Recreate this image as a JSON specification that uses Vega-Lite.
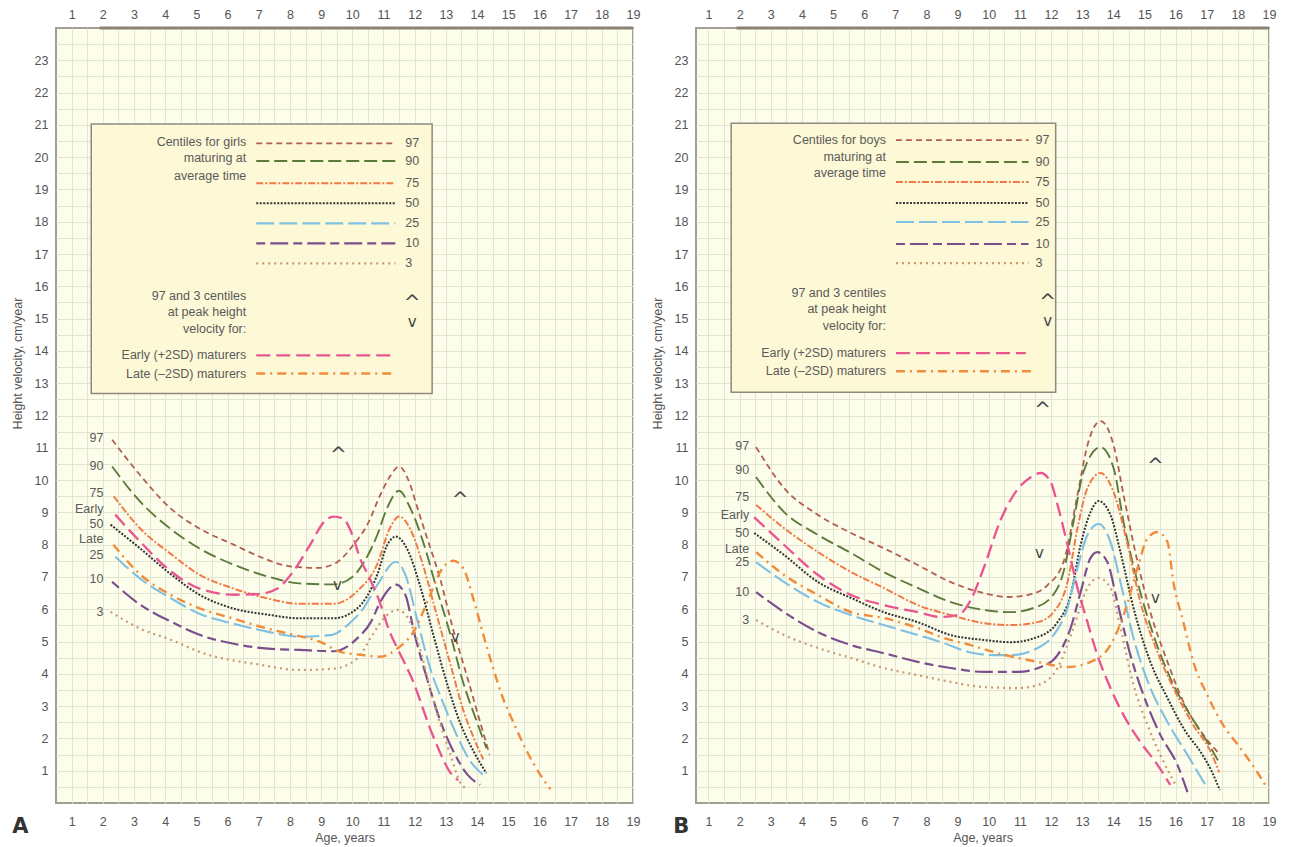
{
  "$schema": "https://vega.github.io/schema/vega-lite/v6.json",
  "padding": {"left": 10, "top": 7, "right": 5, "bottom": 5},
  "spacing": 9,
  "background": "#ffffff",
  "datasets": {
    "one": [{}],
    "curves": [
      {"panel":"A","series":"97","age":2.3,"vel":11.25},{"panel":"A","series":"97","age":3.2,"vel":10.15},{"panel":"A","series":"97","age":4.2,"vel":9.1},{"panel":"A","series":"97","age":5.1,"vel":8.5},{"panel":"A","series":"97","age":6.2,"vel":8.0},{"panel":"A","series":"97","age":7.1,"vel":7.6},{"panel":"A","series":"97","age":8.0,"vel":7.33},{"panel":"A","series":"97","age":8.9,"vel":7.28},{"panel":"A","series":"97","age":9.5,"vel":7.45},{"panel":"A","series":"97","age":10.0,"vel":7.95},{"panel":"A","series":"97","age":10.5,"vel":8.65},{"panel":"A","series":"97","age":10.9,"vel":9.55},{"panel":"A","series":"97","age":11.2,"vel":10.1},{"panel":"A","series":"97","age":11.5,"vel":10.42},{"panel":"A","series":"97","age":11.8,"vel":10.0},{"panel":"A","series":"97","age":12.1,"vel":9.1},{"panel":"A","series":"97","age":12.4,"vel":8.2},{"panel":"A","series":"97","age":12.8,"vel":7.0},{"panel":"A","series":"97","age":13.2,"vel":5.5},{"panel":"A","series":"97","age":13.7,"vel":3.85},{"panel":"A","series":"97","age":14.1,"vel":2.5},{"panel":"A","series":"97","age":14.4,"vel":1.5},
      {"panel":"A","series":"90","age":2.3,"vel":10.42},{"panel":"A","series":"90","age":3.2,"vel":9.33},{"panel":"A","series":"90","age":4.2,"vel":8.47},{"panel":"A","series":"90","age":5.1,"vel":7.88},{"panel":"A","series":"90","age":6.2,"vel":7.38},{"panel":"A","series":"90","age":7.3,"vel":7.01},{"panel":"A","series":"90","age":8.3,"vel":6.8},{"panel":"A","series":"90","age":9.4,"vel":6.77},{"panel":"A","series":"90","age":10.0,"vel":7.0},{"panel":"A","series":"90","age":10.4,"vel":7.5},{"panel":"A","series":"90","age":10.8,"vel":8.3},{"panel":"A","series":"90","age":11.1,"vel":9.1},{"panel":"A","series":"90","age":11.5,"vel":9.67},{"panel":"A","series":"90","age":11.85,"vel":9.15},{"panel":"A","series":"90","age":12.3,"vel":8.0},{"panel":"A","series":"90","age":12.7,"vel":6.65},{"panel":"A","series":"90","age":13.15,"vel":5.2},{"panel":"A","series":"90","age":13.55,"vel":3.75},{"panel":"A","series":"90","age":14.0,"vel":2.5},{"panel":"A","series":"90","age":14.3,"vel":1.7},
      {"panel":"A","series":"75","age":2.35,"vel":9.5},{"panel":"A","series":"75","age":3.2,"vel":8.5},{"panel":"A","series":"75","age":4.2,"vel":7.7},{"panel":"A","series":"75","age":5.1,"vel":7.07},{"panel":"A","series":"75","age":6.2,"vel":6.64},{"panel":"A","series":"75","age":7.3,"vel":6.33},{"panel":"A","series":"75","age":8.3,"vel":6.17},{"panel":"A","series":"75","age":9.4,"vel":6.17},{"panel":"A","series":"75","age":10.15,"vel":6.55},{"panel":"A","series":"75","age":10.8,"vel":7.4},{"panel":"A","series":"75","age":11.2,"vel":8.5},{"panel":"A","series":"75","age":11.5,"vel":8.87},{"panel":"A","series":"75","age":11.85,"vel":8.5},{"panel":"A","series":"75","age":12.3,"vel":7.26},{"panel":"A","series":"75","age":12.7,"vel":5.85},{"panel":"A","series":"75","age":13.15,"vel":4.28},{"panel":"A","series":"75","age":13.55,"vel":2.9},{"panel":"A","series":"75","age":13.9,"vel":2.0},{"panel":"A","series":"75","age":14.2,"vel":1.35},
      {"panel":"A","series":"50","age":2.25,"vel":8.62},{"panel":"A","series":"50","age":3.2,"vel":7.88},{"panel":"A","series":"50","age":4.2,"vel":7.07},{"panel":"A","series":"50","age":5.1,"vel":6.45},{"panel":"A","series":"50","age":6.2,"vel":6.02},{"panel":"A","series":"50","age":7.3,"vel":5.83},{"panel":"A","series":"50","age":8.3,"vel":5.72},{"panel":"A","series":"50","age":9.4,"vel":5.72},{"panel":"A","series":"50","age":10.15,"vel":6.02},{"panel":"A","series":"50","age":10.8,"vel":7.07},{"panel":"A","series":"50","age":11.1,"vel":7.95},{"panel":"A","series":"50","age":11.4,"vel":8.25},{"panel":"A","series":"50","age":11.75,"vel":7.88},{"panel":"A","series":"50","age":12.2,"vel":6.64},{"panel":"A","series":"50","age":12.6,"vel":5.2},{"panel":"A","series":"50","age":13.05,"vel":3.66},{"panel":"A","series":"50","age":13.45,"vel":2.5},{"panel":"A","series":"50","age":13.9,"vel":1.58},{"panel":"A","series":"50","age":14.3,"vel":0.92},
      {"panel":"A","series":"25","age":2.4,"vel":7.63},{"panel":"A","series":"25","age":3.2,"vel":6.95},{"panel":"A","series":"25","age":4.2,"vel":6.33},{"panel":"A","series":"25","age":5.1,"vel":5.86},{"panel":"A","series":"25","age":6.2,"vel":5.55},{"panel":"A","series":"25","age":7.3,"vel":5.3},{"panel":"A","series":"25","age":8.3,"vel":5.15},{"panel":"A","series":"25","age":9.3,"vel":5.2},{"panel":"A","series":"25","age":9.95,"vel":5.6},{"panel":"A","series":"25","age":10.35,"vel":6.02},{"panel":"A","series":"25","age":10.8,"vel":6.75},{"panel":"A","series":"25","age":11.4,"vel":7.47},{"panel":"A","series":"25","age":11.7,"vel":7.07},{"panel":"A","series":"25","age":12.1,"vel":5.6},{"panel":"A","series":"25","age":12.5,"vel":4.16},{"panel":"A","series":"25","age":12.9,"vel":3.13},{"panel":"A","series":"25","age":13.35,"vel":2.1},{"panel":"A","series":"25","age":13.8,"vel":1.27},{"panel":"A","series":"25","age":14.2,"vel":0.87},
      {"panel":"A","series":"10","age":2.3,"vel":6.85},{"panel":"A","series":"10","age":3.2,"vel":6.14},{"panel":"A","series":"10","age":4.2,"vel":5.61},{"panel":"A","series":"10","age":5.1,"vel":5.21},{"panel":"A","series":"10","age":6.2,"vel":4.93},{"panel":"A","series":"10","age":7.3,"vel":4.78},{"panel":"A","series":"10","age":8.3,"vel":4.74},{"panel":"A","series":"10","age":9.4,"vel":4.7},{"panel":"A","series":"10","age":10.15,"vel":5.09},{"panel":"A","series":"10","age":10.6,"vel":5.61},{"panel":"A","series":"10","age":10.9,"vel":6.23},{"panel":"A","series":"10","age":11.4,"vel":6.76},{"panel":"A","series":"10","age":11.7,"vel":6.45},{"panel":"A","series":"10","age":12.0,"vel":5.21},{"panel":"A","series":"10","age":12.4,"vel":3.84},{"panel":"A","series":"10","age":12.8,"vel":2.6},{"panel":"A","series":"10","age":13.25,"vel":1.58},{"panel":"A","series":"10","age":13.7,"vel":0.87},{"panel":"A","series":"10","age":14.1,"vel":0.56},
      {"panel":"A","series":"3","age":2.25,"vel":5.92},{"panel":"A","series":"3","age":3.2,"vel":5.4},{"panel":"A","series":"3","age":4.2,"vel":5.05},{"panel":"A","series":"3","age":5.1,"vel":4.68},{"panel":"A","series":"3","age":7.05,"vel":4.28},{"panel":"A","series":"3","age":8.3,"vel":4.12},{"panel":"A","series":"3","age":9.4,"vel":4.16},{"panel":"A","series":"3","age":10.15,"vel":4.47},{"panel":"A","series":"3","age":10.65,"vel":5.21},{"panel":"A","series":"3","age":11.0,"vel":5.71},{"panel":"A","series":"3","age":11.45,"vel":5.98},{"panel":"A","series":"3","age":11.85,"vel":5.61},{"panel":"A","series":"3","age":12.2,"vel":4.68},{"panel":"A","series":"3","age":12.5,"vel":3.53},{"panel":"A","series":"3","age":12.8,"vel":2.51},{"panel":"A","series":"3","age":13.15,"vel":1.49},{"panel":"A","series":"3","age":13.45,"vel":0.65},{"panel":"A","series":"3","age":13.7,"vel":0.43},
      {"panel":"A","series":"Early","age":2.4,"vel":8.93},{"panel":"A","series":"Early","age":3.2,"vel":8.09},{"panel":"A","series":"Early","age":4.2,"vel":7.16},{"panel":"A","series":"Early","age":5.1,"vel":6.64},{"panel":"A","series":"Early","age":6.2,"vel":6.45},{"panel":"A","series":"Early","age":7.05,"vel":6.48},{"panel":"A","series":"Early","age":7.6,"vel":6.64},{"panel":"A","series":"Early","age":8.1,"vel":7.16},{"panel":"A","series":"Early","age":8.65,"vel":8.0},{"panel":"A","series":"Early","age":9.1,"vel":8.71},{"panel":"A","series":"Early","age":9.4,"vel":8.87},{"panel":"A","series":"Early","age":9.7,"vel":8.81},{"panel":"A","series":"Early","age":10.0,"vel":8.31},{"panel":"A","series":"Early","age":10.25,"vel":7.57},{"panel":"A","series":"Early","age":10.5,"vel":7.07},{"panel":"A","series":"Early","age":10.85,"vel":6.3},{"panel":"A","series":"Early","age":11.2,"vel":5.3},{"panel":"A","series":"Early","age":11.45,"vel":4.78},{"panel":"A","series":"Early","age":11.9,"vel":3.88},{"panel":"A","series":"Early","age":12.6,"vel":2.05},{"panel":"A","series":"Early","age":13.2,"vel":0.87},{"panel":"A","series":"Early","age":13.4,"vel":0.7},
      {"panel":"A","series":"Late","age":2.34,"vel":8.0},{"panel":"A","series":"Late","age":3.21,"vel":7.07},{"panel":"A","series":"Late","age":4.17,"vel":6.45},{"panel":"A","series":"Late","age":5.13,"vel":6.02},{"panel":"A","series":"Late","age":6.19,"vel":5.71},{"panel":"A","series":"Late","age":7.28,"vel":5.4},{"panel":"A","series":"Late","age":8.11,"vel":5.21},{"panel":"A","series":"Late","age":8.97,"vel":4.99},{"panel":"A","series":"Late","age":9.62,"vel":4.68},{"panel":"A","series":"Late","age":10.26,"vel":4.59},{"panel":"A","series":"Late","age":10.9,"vel":4.53},{"panel":"A","series":"Late","age":11.44,"vel":4.78},{"panel":"A","series":"Late","age":11.96,"vel":5.3},{"panel":"A","series":"Late","age":12.5,"vel":6.45},{"panel":"A","series":"Late","age":12.82,"vel":7.16},{"panel":"A","series":"Late","age":13.24,"vel":7.5},{"panel":"A","series":"Late","age":13.56,"vel":7.26},{"panel":"A","series":"Late","age":13.88,"vel":6.33},{"panel":"A","series":"Late","age":14.2,"vel":5.21},{"panel":"A","series":"Late","age":14.52,"vel":4.16},{"panel":"A","series":"Late","age":14.84,"vel":3.22},{"panel":"A","series":"Late","age":15.16,"vel":2.51},{"panel":"A","series":"Late","age":15.61,"vel":1.58},{"panel":"A","series":"Late","age":16.03,"vel":0.87},{"panel":"A","series":"Late","age":16.35,"vel":0.43},
      {"panel":"B","series":"97","age":2.53,"vel":11.02},{"panel":"B","series":"97","age":3.43,"vel":9.75},{"panel":"B","series":"97","age":4.52,"vel":8.92},{"panel":"B","series":"97","age":5.58,"vel":8.36},{"panel":"B","series":"97","age":6.63,"vel":7.89},{"panel":"B","series":"97","age":7.72,"vel":7.37},{"panel":"B","series":"97","age":8.78,"vel":6.84},{"panel":"B","series":"97","age":9.84,"vel":6.5},{"panel":"B","series":"97","age":10.61,"vel":6.38},{"panel":"B","series":"97","age":11.25,"vel":6.44},{"panel":"B","series":"97","age":11.89,"vel":6.75},{"panel":"B","series":"97","age":12.4,"vel":7.46},{"panel":"B","series":"97","age":12.85,"vel":9.54},{"panel":"B","series":"97","age":13.17,"vel":11.08},{"panel":"B","series":"97","age":13.59,"vel":11.83},{"panel":"B","series":"97","age":14.01,"vel":11.08},{"panel":"B","series":"97","age":14.33,"vel":9.54},{"panel":"B","series":"97","age":14.78,"vel":7.46},{"panel":"B","series":"97","age":15.19,"vel":5.91},{"panel":"B","series":"97","age":15.74,"vel":4.37},{"panel":"B","series":"97","age":16.25,"vel":3.13},{"panel":"B","series":"97","age":16.89,"vel":2.11},{"panel":"B","series":"97","age":17.44,"vel":1.49},
      {"panel":"B","series":"90","age":2.53,"vel":10.09},{"panel":"B","series":"90","age":3.43,"vel":9.01},{"panel":"B","series":"90","age":4.52,"vel":8.3},{"panel":"B","series":"90","age":5.58,"vel":7.74},{"panel":"B","series":"90","age":6.63,"vel":7.15},{"panel":"B","series":"90","age":7.72,"vel":6.66},{"panel":"B","series":"90","age":8.78,"vel":6.22},{"panel":"B","series":"90","age":9.84,"vel":5.98},{"panel":"B","series":"90","age":10.71,"vel":5.91},{"panel":"B","series":"90","age":11.44,"vel":6.04},{"panel":"B","series":"90","age":11.99,"vel":6.35},{"panel":"B","series":"90","age":12.4,"vel":7.15},{"panel":"B","series":"90","age":12.72,"vel":8.7},{"panel":"B","series":"90","age":13.04,"vel":10.25},{"panel":"B","series":"90","age":13.59,"vel":11.02},{"panel":"B","series":"90","age":14.01,"vel":10.37},{"panel":"B","series":"90","age":14.33,"vel":8.7},{"panel":"B","series":"90","age":14.78,"vel":6.84},{"panel":"B","series":"90","age":15.29,"vel":5.2},{"panel":"B","series":"90","age":15.83,"vel":3.87},{"panel":"B","series":"90","age":16.47,"vel":2.72},{"panel":"B","series":"90","age":17.02,"vel":1.89},{"panel":"B","series":"90","age":17.44,"vel":1.18},
      {"panel":"B","series":"75","age":2.53,"vel":9.23},{"panel":"B","series":"75","age":3.43,"vel":8.51},{"panel":"B","series":"75","age":4.52,"vel":7.77},{"panel":"B","series":"75","age":5.58,"vel":7.15},{"panel":"B","series":"75","age":6.63,"vel":6.66},{"panel":"B","series":"75","age":7.72,"vel":6.13},{"panel":"B","series":"75","age":8.78,"vel":5.82},{"panel":"B","series":"75","age":9.84,"vel":5.57},{"panel":"B","series":"75","age":10.71,"vel":5.51},{"panel":"B","series":"75","age":11.57,"vel":5.6},{"panel":"B","series":"75","age":12.08,"vel":5.91},{"panel":"B","series":"75","age":12.53,"vel":6.84},{"panel":"B","series":"75","age":12.85,"vel":8.51},{"panel":"B","series":"75","age":13.17,"vel":9.75},{"panel":"B","series":"75","age":13.59,"vel":10.22},{"panel":"B","series":"75","age":14.01,"vel":9.63},{"panel":"B","series":"75","age":14.46,"vel":7.99},{"panel":"B","series":"75","age":14.87,"vel":6.22},{"panel":"B","series":"75","age":15.42,"vel":4.67},{"panel":"B","series":"75","age":15.93,"vel":3.56},{"panel":"B","series":"75","age":16.57,"vel":2.41},{"panel":"B","series":"75","age":17.12,"vel":1.6},{"panel":"B","series":"75","age":17.4,"vel":0.95},
      {"panel":"B","series":"50","age":2.47,"vel":8.36},{"panel":"B","series":"50","age":3.43,"vel":7.68},{"panel":"B","series":"50","age":4.52,"vel":6.84},{"panel":"B","series":"50","age":5.58,"vel":6.35},{"panel":"B","series":"50","age":6.63,"vel":5.91},{"panel":"B","series":"50","age":7.72,"vel":5.6},{"panel":"B","series":"50","age":8.78,"vel":5.2},{"panel":"B","series":"50","age":9.84,"vel":5.05},{"panel":"B","series":"50","age":10.71,"vel":4.98},{"panel":"B","series":"50","age":11.57,"vel":5.14},{"panel":"B","series":"50","age":12.21,"vel":5.6},{"panel":"B","series":"50","age":12.63,"vel":6.44},{"panel":"B","series":"50","age":12.95,"vel":7.99},{"panel":"B","series":"50","age":13.27,"vel":9.01},{"panel":"B","series":"50","age":13.53,"vel":9.35},{"panel":"B","series":"50","age":13.91,"vel":8.92},{"panel":"B","series":"50","age":14.23,"vel":7.77},{"panel":"B","series":"50","age":14.65,"vel":6.04},{"panel":"B","series":"50","age":15.19,"vel":4.37},{"panel":"B","series":"50","age":15.74,"vel":3.25},{"panel":"B","series":"50","age":16.25,"vel":2.32},{"panel":"B","series":"50","age":16.89,"vel":1.45},{"panel":"B","series":"50","age":17.15,"vel":1.0},{"panel":"B","series":"50","age":17.42,"vel":0.4},
      {"panel":"B","series":"25","age":2.53,"vel":7.46},{"panel":"B","series":"25","age":3.43,"vel":6.84},{"panel":"B","series":"25","age":4.52,"vel":6.22},{"panel":"B","series":"25","age":5.58,"vel":5.82},{"panel":"B","series":"25","age":6.63,"vel":5.51},{"panel":"B","series":"25","age":7.72,"vel":5.2},{"panel":"B","series":"25","age":8.56,"vel":4.95},{"panel":"B","series":"25","age":9.42,"vel":4.66},{"panel":"B","series":"25","age":10.16,"vel":4.58},{"panel":"B","series":"25","age":10.71,"vel":4.58},{"panel":"B","series":"25","age":11.57,"vel":4.8},{"panel":"B","series":"25","age":12.08,"vel":5.2},{"panel":"B","series":"25","age":12.53,"vel":6.04},{"panel":"B","series":"25","age":12.85,"vel":7.28},{"panel":"B","series":"25","age":13.17,"vel":8.3},{"panel":"B","series":"25","age":13.53,"vel":8.64},{"panel":"B","series":"25","age":13.91,"vel":8.08},{"panel":"B","series":"25","age":14.23,"vel":6.84},{"panel":"B","series":"25","age":14.65,"vel":5.11},{"panel":"B","series":"25","age":15.19,"vel":3.56},{"panel":"B","series":"25","age":15.74,"vel":2.51},{"panel":"B","series":"25","age":16.38,"vel":1.49},{"panel":"B","series":"25","age":17.02,"vel":0.46},
      {"panel":"B","series":"10","age":2.53,"vel":6.53},{"panel":"B","series":"10","age":3.43,"vel":5.91},{"panel":"B","series":"10","age":4.52,"vel":5.29},{"panel":"B","series":"10","age":5.58,"vel":4.89},{"panel":"B","series":"10","age":6.63,"vel":4.64},{"panel":"B","series":"10","age":7.72,"vel":4.37},{"panel":"B","series":"10","age":8.78,"vel":4.18},{"panel":"B","series":"10","age":9.84,"vel":4.06},{"panel":"B","series":"10","age":10.93,"vel":4.06},{"panel":"B","series":"10","age":11.67,"vel":4.21},{"panel":"B","series":"10","age":12.21,"vel":4.58},{"panel":"B","series":"10","age":12.63,"vel":5.42},{"panel":"B","series":"10","age":12.95,"vel":6.53},{"panel":"B","series":"10","age":13.27,"vel":7.59},{"panel":"B","series":"10","age":13.49,"vel":7.77},{"panel":"B","series":"10","age":13.81,"vel":7.46},{"panel":"B","series":"10","age":14.13,"vel":6.22},{"panel":"B","series":"10","age":14.55,"vel":4.58},{"panel":"B","series":"10","age":14.97,"vel":3.34},{"panel":"B","series":"10","age":15.51,"vel":2.11},{"panel":"B","series":"10","age":16.06,"vel":1.18},{"panel":"B","series":"10","age":16.38,"vel":0.34},
      {"panel":"B","series":"3","age":2.53,"vel":5.67},{"panel":"B","series":"3","age":3.43,"vel":5.2},{"panel":"B","series":"3","age":4.52,"vel":4.8},{"panel":"B","series":"3","age":5.58,"vel":4.49},{"panel":"B","series":"3","age":6.63,"vel":4.18},{"panel":"B","series":"3","age":7.72,"vel":3.96},{"panel":"B","series":"3","age":8.78,"vel":3.75},{"panel":"B","series":"3","age":9.84,"vel":3.59},{"panel":"B","series":"3","age":10.93,"vel":3.56},{"panel":"B","series":"3","age":11.57,"vel":3.65},{"panel":"B","series":"3","age":12.21,"vel":4.18},{"panel":"B","series":"3","age":12.72,"vel":5.42},{"panel":"B","series":"3","age":13.17,"vel":6.66},{"panel":"B","series":"3","age":13.53,"vel":6.97},{"panel":"B","series":"3","age":13.91,"vel":6.66},{"panel":"B","series":"3","age":14.23,"vel":5.42},{"panel":"B","series":"3","age":14.65,"vel":3.65},{"panel":"B","series":"3","age":15.1,"vel":2.41},{"panel":"B","series":"3","age":15.51,"vel":1.49},{"panel":"B","series":"3","age":16.0,"vel":0.56},
      {"panel":"B","series":"Early","age":2.47,"vel":8.85},{"panel":"B","series":"Early","age":3.43,"vel":7.99},{"panel":"B","series":"Early","age":4.52,"vel":7.06},{"panel":"B","series":"Early","age":5.58,"vel":6.44},{"panel":"B","series":"Early","age":6.63,"vel":6.13},{"panel":"B","series":"Early","age":7.72,"vel":5.91},{"panel":"B","series":"Early","age":8.46,"vel":5.76},{"panel":"B","series":"Early","age":9.01,"vel":5.82},{"panel":"B","series":"Early","age":9.42,"vel":6.28},{"panel":"B","series":"Early","age":9.84,"vel":7.28},{"panel":"B","series":"Early","age":10.38,"vel":8.76},{"panel":"B","series":"Early","age":10.93,"vel":9.72},{"panel":"B","series":"Early","age":11.35,"vel":10.09},{"panel":"B","series":"Early","age":11.67,"vel":10.22},{"panel":"B","series":"Early","age":11.99,"vel":9.94},{"panel":"B","series":"Early","age":12.21,"vel":9.23},{"panel":"B","series":"Early","age":12.53,"vel":7.99},{"panel":"B","series":"Early","age":12.85,"vel":6.66},{"panel":"B","series":"Early","age":13.17,"vel":5.6},{"panel":"B","series":"Early","age":13.49,"vel":4.58},{"panel":"B","series":"Early","age":13.91,"vel":3.56},{"panel":"B","series":"Early","age":14.33,"vel":2.72},{"panel":"B","series":"Early","age":14.87,"vel":1.89},{"panel":"B","series":"Early","age":15.42,"vel":1.18},{"panel":"B","series":"Early","age":15.83,"vel":0.56},
      {"panel":"B","series":"Late","age":2.53,"vel":7.77},{"panel":"B","series":"Late","age":3.43,"vel":7.06},{"panel":"B","series":"Late","age":4.52,"vel":6.44},{"panel":"B","series":"Late","age":5.58,"vel":5.91},{"panel":"B","series":"Late","age":6.63,"vel":5.73},{"panel":"B","series":"Late","age":7.72,"vel":5.42},{"panel":"B","series":"Late","age":8.56,"vel":5.11},{"panel":"B","series":"Late","age":9.42,"vel":4.89},{"panel":"B","series":"Late","age":10.29,"vel":4.64},{"panel":"B","series":"Late","age":11.57,"vel":4.37},{"panel":"B","series":"Late","age":12.53,"vel":4.21},{"panel":"B","series":"Late","age":13.27,"vel":4.37},{"panel":"B","series":"Late","age":13.91,"vel":4.89},{"panel":"B","series":"Late","age":14.33,"vel":5.82},{"panel":"B","series":"Late","age":14.78,"vel":7.28},{"panel":"B","series":"Late","age":15.1,"vel":8.2},{"panel":"B","series":"Late","age":15.42,"vel":8.39},{"panel":"B","series":"Late","age":15.74,"vel":8.08},{"panel":"B","series":"Late","age":15.93,"vel":6.84},{"panel":"B","series":"Late","age":16.25,"vel":5.6},{"panel":"B","series":"Late","age":16.57,"vel":4.37},{"panel":"B","series":"Late","age":17.02,"vel":3.34},{"panel":"B","series":"Late","age":17.53,"vel":2.41},{"panel":"B","series":"Late","age":18.08,"vel":1.7},{"panel":"B","series":"Late","age":18.62,"vel":0.96},{"panel":"B","series":"Late","age":18.94,"vel":0.46}
    ],
    "legendLines": [
      {"panel":"A","series":"97","age":6.92,"vel":20.43},{"panel":"A","series":"97","age":11.38,"vel":20.43},
      {"panel":"A","series":"90","age":6.92,"vel":19.88},{"panel":"A","series":"90","age":11.38,"vel":19.88},
      {"panel":"A","series":"75","age":6.92,"vel":19.19},{"panel":"A","series":"75","age":11.38,"vel":19.19},
      {"panel":"A","series":"50","age":6.92,"vel":18.57},{"panel":"A","series":"50","age":11.38,"vel":18.57},
      {"panel":"A","series":"25","age":6.92,"vel":17.95},{"panel":"A","series":"25","age":11.38,"vel":17.95},
      {"panel":"A","series":"10","age":6.92,"vel":17.33},{"panel":"A","series":"10","age":11.38,"vel":17.33},
      {"panel":"A","series":"3","age":6.92,"vel":16.71},{"panel":"A","series":"3","age":11.38,"vel":16.71},
      {"panel":"A","series":"Early","age":6.92,"vel":13.86},{"panel":"A","series":"Early","age":11.22,"vel":13.86},
      {"panel":"A","series":"Late","age":6.92,"vel":13.3},{"panel":"A","series":"Late","age":11.38,"vel":13.3},
      {"panel":"B","series":"97","age":7.02,"vel":20.53},{"panel":"B","series":"97","age":11.28,"vel":20.53},
      {"panel":"B","series":"90","age":7.02,"vel":19.85},{"panel":"B","series":"90","age":11.28,"vel":19.85},
      {"panel":"B","series":"75","age":7.02,"vel":19.23},{"panel":"B","series":"75","age":11.28,"vel":19.23},
      {"panel":"B","series":"50","age":7.02,"vel":18.58},{"panel":"B","series":"50","age":11.28,"vel":18.58},
      {"panel":"B","series":"25","age":7.02,"vel":17.99},{"panel":"B","series":"25","age":11.28,"vel":17.99},
      {"panel":"B","series":"10","age":7.02,"vel":17.31},{"panel":"B","series":"10","age":11.28,"vel":17.31},
      {"panel":"B","series":"3","age":7.02,"vel":16.72},{"panel":"B","series":"3","age":11.28,"vel":16.72},
      {"panel":"B","series":"Early","age":7.02,"vel":13.93},{"panel":"B","series":"Early","age":11.19,"vel":13.93},
      {"panel":"B","series":"Late","age":7.02,"vel":13.37},{"panel":"B","series":"Late","age":11.5,"vel":13.37}
    ],
    "rightText": [
      {"panel":"A","txt":"97","age":11.7,"vel":20.43},{"panel":"A","txt":"90","age":11.7,"vel":19.88},{"panel":"A","txt":"75","age":11.7,"vel":19.19},{"panel":"A","txt":"50","age":11.7,"vel":18.57},{"panel":"A","txt":"25","age":11.7,"vel":17.95},{"panel":"A","txt":"10","age":11.7,"vel":17.33},{"panel":"A","txt":"3","age":11.7,"vel":16.71},
      {"panel":"B","txt":"97","age":11.5,"vel":20.53},{"panel":"B","txt":"90","age":11.5,"vel":19.85},{"panel":"B","txt":"75","age":11.5,"vel":19.23},{"panel":"B","txt":"50","age":11.5,"vel":18.58},{"panel":"B","txt":"25","age":11.5,"vel":17.99},{"panel":"B","txt":"10","age":11.5,"vel":17.31},{"panel":"B","txt":"3","age":11.5,"vel":16.72}
    ],
    "leftText": [
      {"panel":"A","txt":"Centiles for girls","age":6.6,"vel":20.47},{"panel":"A","txt":"maturing at","age":6.6,"vel":19.97},{"panel":"A","txt":"average time","age":6.6,"vel":19.43},
      {"panel":"A","txt":"97 and 3 centiles","age":6.6,"vel":15.69},{"panel":"A","txt":"at peak height","age":6.6,"vel":15.19},{"panel":"A","txt":"velocity for:","age":6.6,"vel":14.67},
      {"panel":"A","txt":"Early (+2SD) maturers","age":6.6,"vel":13.86},{"panel":"A","txt":"Late (–2SD) maturers","age":6.6,"vel":13.3},
      {"panel":"A","txt":"97","age":2.02,"vel":11.29},{"panel":"A","txt":"90","age":2.02,"vel":10.45},{"panel":"A","txt":"75","age":2.02,"vel":9.61},{"panel":"A","txt":"Early","age":2.02,"vel":9.12},{"panel":"A","txt":"50","age":2.02,"vel":8.65},{"panel":"A","txt":"Late","age":2.02,"vel":8.19},{"panel":"A","txt":"25","age":2.02,"vel":7.69},{"panel":"A","txt":"10","age":2.02,"vel":6.95},{"panel":"A","txt":"3","age":2.02,"vel":5.92},
      {"panel":"B","txt":"Centiles for boys","age":6.7,"vel":20.53},{"panel":"B","txt":"maturing at","age":6.7,"vel":20.0},{"panel":"B","txt":"average time","age":6.7,"vel":19.5},
      {"panel":"B","txt":"97 and 3 centiles","age":6.7,"vel":15.79},{"panel":"B","txt":"at peak height","age":6.7,"vel":15.29},{"panel":"B","txt":"velocity for:","age":6.7,"vel":14.77},
      {"panel":"B","txt":"Early (+2SD) maturers","age":6.7,"vel":13.93},{"panel":"B","txt":"Late (–2SD) maturers","age":6.7,"vel":13.37},
      {"panel":"B","txt":"97","age":2.31,"vel":11.05},{"panel":"B","txt":"90","age":2.31,"vel":10.31},{"panel":"B","txt":"75","age":2.31,"vel":9.47},{"panel":"B","txt":"Early","age":2.31,"vel":8.92},{"panel":"B","txt":"50","age":2.31,"vel":8.36},{"panel":"B","txt":"Late","age":2.31,"vel":7.86},{"panel":"B","txt":"25","age":2.31,"vel":7.46},{"panel":"B","txt":"10","age":2.31,"vel":6.53},{"panel":"B","txt":"3","age":2.31,"vel":5.67}
    ],
    "upMarks": [
      {"panel":"A","txt":"^","age":11.92,"vel":15.6},{"panel":"A","txt":"^","age":9.55,"vel":10.9},{"panel":"A","txt":"^","age":13.46,"vel":9.5},
      {"panel":"B","txt":"^","age":11.89,"vel":15.63},{"panel":"B","txt":"^","age":11.73,"vel":12.3},{"panel":"B","txt":"^","age":15.35,"vel":10.56}
    ],
    "downMarks": [
      {"panel":"A","txt":"v","age":11.92,"vel":14.91},{"panel":"A","txt":"v","age":9.52,"vel":6.76},{"panel":"A","txt":"v","age":13.3,"vel":5.15},
      {"panel":"B","txt":"v","age":11.89,"vel":14.92},{"panel":"B","txt":"v","age":11.63,"vel":7.74},{"panel":"B","txt":"v","age":15.35,"vel":6.35}
    ]
  },
  "hconcat": [
    {
      "width": 577, "height": 775,
      "layer": [
        {"data": {"name": "one"},
         "mark": {"type": "rect", "fill": "#fdf8d6", "stroke": "#8e8a80", "strokeWidth": 1.5},
         "encoding": {"x": {"datum": 1.63, "type": "quantitative", "scale": {"domain": [0.5, 19], "nice": false}, "axis": null}, "x2": {"datum": 12.56}, "y": {"datum": 21.03, "type": "quantitative", "scale": {"domain": [0, 24], "nice": false}, "axis": null}, "y2": {"datum": 12.68}}},
        {"data": {"name": "curves"}, "transform": [{"filter": "datum.panel == 'A'"}],
         "mark": {"type": "line", "interpolate": "monotone"},
         "encoding": {
           "x": {"field": "age", "type": "quantitative", "scale": {"domain": [0.5, 19], "nice": false}, "axis": {"orient": "bottom", "values": [1,1.5,2,2.5,3,3.5,4,4.5,5,5.5,6,6.5,7,7.5,8,8.5,9,9.5,10,10.5,11,11.5,12,12.5,13,13.5,14,14.5,15,15.5,16,16.5,17,17.5,18,18.5,19], "labelExpr": "datum.value % 1 == 0 ? format(datum.value, 'd') : ''", "labelOverlap": false, "labelFlush": false, "grid": true, "labelPadding": 12, "title": "Age, years", "titlePadding": 4}},
           "y": {"field": "vel", "type": "quantitative", "scale": {"domain": [0, 24], "nice": false}, "axis": {"orient": "left", "values": [0.5,1,1.5,2,2.5,3,3.5,4,4.5,5,5.5,6,6.5,7,7.5,8,8.5,9,9.5,10,10.5,11,11.5,12,12.5,13,13.5,14,14.5,15,15.5,16,16.5,17,17.5,18,18.5,19,19.5,20,20.5,21,21.5,22,22.5,23,23.5], "labelExpr": "datum.value % 1 == 0 ? format(datum.value, 'd') : ''", "labelOverlap": false, "labelFlush": false, "grid": true, "labelPadding": 8, "title": "Height velocity, cm/year", "titlePadding": 10, "titleY": 335}},
           "color": {"field": "series", "type": "nominal", "legend": null, "scale": {"domain": ["97","90","75","50","25","10","3","Early","Late"], "range": ["#b2604e","#5c7a3a","#f07a45","#333333","#7fc0e2","#7b4e8e","#c99a72","#ea5590","#f08c3c"]}},
           "strokeDash": {"field": "series", "type": "nominal", "legend": null, "scale": {"domain": ["97","90","75","50","25","10","3","Early","Late"], "range": [[6,4],[13,5],[7,2,2,2],[2,1.5],[18,5],[9,5,18,5],[2,4],[14,6],[9,5,2,5]]}},
           "strokeWidth": {"field": "series", "type": "nominal", "legend": null, "scale": {"domain": ["97","90","75","50","25","10","3","Early","Late"], "range": [1.8,2.4,1.6,2.6,1.8,2.2,1.6,2.6,2.6]}},
           "detail": {"field": "series"}
         }},
        {"data": {"name": "legendLines"}, "transform": [{"filter": "datum.panel == 'A'"}],
         "mark": {"type": "line"},
         "encoding": {
           "x": {"field": "age", "type": "quantitative", "scale": {"domain": [0.5, 19], "nice": false}, "axis": null},
           "y": {"field": "vel", "type": "quantitative", "scale": {"domain": [0, 24], "nice": false}, "axis": null},
           "color": {"field": "series", "type": "nominal", "legend": null},
           "strokeDash": {"field": "series", "type": "nominal", "legend": null},
           "strokeWidth": {"field": "series", "type": "nominal", "legend": null},
           "detail": {"field": "series"}
         }},
        {"data": {"name": "leftText"}, "transform": [{"filter": "datum.panel == 'A'"}],
         "mark": {"type": "text", "align": "right", "baseline": "middle", "fontSize": 12.5, "fill": "#5a5a5a"},
         "encoding": {"x": {"field": "age", "type": "quantitative", "scale": {"domain": [0.5, 19], "nice": false}, "axis": null}, "y": {"field": "vel", "type": "quantitative", "scale": {"domain": [0, 24], "nice": false}, "axis": null}, "text": {"field": "txt"}}},
        {"data": {"name": "rightText"}, "transform": [{"filter": "datum.panel == 'A'"}],
         "mark": {"type": "text", "align": "left", "baseline": "middle", "fontSize": 12.5, "fill": "#5a5a5a"},
         "encoding": {"x": {"field": "age", "type": "quantitative", "scale": {"domain": [0.5, 19], "nice": false}, "axis": null}, "y": {"field": "vel", "type": "quantitative", "scale": {"domain": [0, 24], "nice": false}, "axis": null}, "text": {"field": "txt"}}},
        {"data": {"name": "upMarks"}, "transform": [{"filter": "datum.panel == 'A'"}],
         "mark": {"type": "text", "align": "center", "baseline": "middle", "fontSize": 20, "dy": 4, "fill": "#444444", "font": "DejaVu Sans"},
         "encoding": {"x": {"field": "age", "type": "quantitative", "scale": {"domain": [0.5, 19], "nice": false}, "axis": null}, "y": {"field": "vel", "type": "quantitative", "scale": {"domain": [0, 24], "nice": false}, "axis": null}, "text": {"field": "txt"}}},
        {"data": {"name": "downMarks"}, "transform": [{"filter": "datum.panel == 'A'"}],
         "mark": {"type": "text", "align": "center", "baseline": "middle", "fontSize": 15, "fill": "#444444", "font": "DejaVu Sans"},
         "encoding": {"x": {"field": "age", "type": "quantitative", "scale": {"domain": [0.5, 19], "nice": false}, "axis": null}, "y": {"field": "vel", "type": "quantitative", "scale": {"domain": [0, 24], "nice": false}, "axis": null}, "text": {"field": "txt"}}},
        {"data": {"name": "one"},
         "mark": {"type": "text", "text": "A", "fontSize": 21, "fontWeight": "bold", "fill": "#333333", "align": "center", "baseline": "middle", "font": "DejaVu Sans"},
         "encoding": {"x": {"datum": -0.64, "type": "quantitative", "scale": {"domain": [0.5, 19], "nice": false}, "axis": null}, "y": {"datum": -0.74, "type": "quantitative", "scale": {"domain": [0, 24], "nice": false}, "axis": null}}},
        {"data": {"name": "one"},
         "mark": {"type": "rule", "stroke": "#8a8272", "strokeWidth": 3},
         "encoding": {"x": {"datum": 1.9, "type": "quantitative", "scale": {"domain": [0.5, 19], "nice": false}, "axis": {"orient": "top", "values": [1,2,3,4,5,6,7,8,9,10,11,12,13,14,15,16,17,18,19], "labelOverlap": false, "labelFlush": false, "grid": false, "labelPadding": 7, "title": null}}, "x2": {"datum": 19}, "y": {"datum": 24, "type": "quantitative", "scale": {"domain": [0, 24], "nice": false}, "axis": null}}}
      ],
      "resolve": {"axis": {"x": "independent", "y": "independent"}}
    },
    {
      "width": 573, "height": 775,
      "layer": [
        {"data": {"name": "one"},
         "mark": {"type": "rect", "fill": "#fdf8d6", "stroke": "#8e8a80", "strokeWidth": 1.5},
         "encoding": {"x": {"datum": 1.73, "type": "quantitative", "scale": {"domain": [0.6, 19], "nice": false}, "axis": null}, "x2": {"datum": 12.15}, "y": {"datum": 21.05, "type": "quantitative", "scale": {"domain": [0, 24], "nice": false}, "axis": null}, "y2": {"datum": 12.72}}},
        {"data": {"name": "curves"}, "transform": [{"filter": "datum.panel == 'B'"}],
         "mark": {"type": "line", "interpolate": "monotone"},
         "encoding": {
           "x": {"field": "age", "type": "quantitative", "scale": {"domain": [0.6, 19], "nice": false}, "axis": {"orient": "bottom", "values": [1,1.5,2,2.5,3,3.5,4,4.5,5,5.5,6,6.5,7,7.5,8,8.5,9,9.5,10,10.5,11,11.5,12,12.5,13,13.5,14,14.5,15,15.5,16,16.5,17,17.5,18,18.5,19], "labelExpr": "datum.value % 1 == 0 ? format(datum.value, 'd') : ''", "labelOverlap": false, "labelFlush": false, "grid": true, "labelPadding": 12, "title": "Age, years", "titlePadding": 4}},
           "y": {"field": "vel", "type": "quantitative", "scale": {"domain": [0, 24], "nice": false}, "axis": {"orient": "left", "values": [0.5,1,1.5,2,2.5,3,3.5,4,4.5,5,5.5,6,6.5,7,7.5,8,8.5,9,9.5,10,10.5,11,11.5,12,12.5,13,13.5,14,14.5,15,15.5,16,16.5,17,17.5,18,18.5,19,19.5,20,20.5,21,21.5,22,22.5,23,23.5], "labelExpr": "datum.value % 1 == 0 ? format(datum.value, 'd') : ''", "labelOverlap": false, "labelFlush": false, "grid": true, "labelPadding": 8, "title": "Height velocity, cm/year", "titlePadding": 10, "titleY": 335}},
           "color": {"field": "series", "type": "nominal", "legend": null, "scale": {"domain": ["97","90","75","50","25","10","3","Early","Late"], "range": ["#b2604e","#5c7a3a","#f07a45","#333333","#7fc0e2","#7b4e8e","#c99a72","#ea5590","#f08c3c"]}},
           "strokeDash": {"field": "series", "type": "nominal", "legend": null, "scale": {"domain": ["97","90","75","50","25","10","3","Early","Late"], "range": [[6,4],[13,5],[7,2,2,2],[2,1.5],[18,5],[9,5,18,5],[2,4],[14,6],[9,5,2,5]]}},
           "strokeWidth": {"field": "series", "type": "nominal", "legend": null, "scale": {"domain": ["97","90","75","50","25","10","3","Early","Late"], "range": [1.8,2.4,1.6,2.6,1.8,2.2,1.6,2.6,2.6]}},
           "detail": {"field": "series"}
         }},
        {"data": {"name": "legendLines"}, "transform": [{"filter": "datum.panel == 'B'"}],
         "mark": {"type": "line"},
         "encoding": {
           "x": {"field": "age", "type": "quantitative", "scale": {"domain": [0.6, 19], "nice": false}, "axis": null},
           "y": {"field": "vel", "type": "quantitative", "scale": {"domain": [0, 24], "nice": false}, "axis": null},
           "color": {"field": "series", "type": "nominal", "legend": null},
           "strokeDash": {"field": "series", "type": "nominal", "legend": null},
           "strokeWidth": {"field": "series", "type": "nominal", "legend": null},
           "detail": {"field": "series"}
         }},
        {"data": {"name": "leftText"}, "transform": [{"filter": "datum.panel == 'B'"}],
         "mark": {"type": "text", "align": "right", "baseline": "middle", "fontSize": 12.5, "fill": "#5a5a5a"},
         "encoding": {"x": {"field": "age", "type": "quantitative", "scale": {"domain": [0.6, 19], "nice": false}, "axis": null}, "y": {"field": "vel", "type": "quantitative", "scale": {"domain": [0, 24], "nice": false}, "axis": null}, "text": {"field": "txt"}}},
        {"data": {"name": "rightText"}, "transform": [{"filter": "datum.panel == 'B'"}],
         "mark": {"type": "text", "align": "left", "baseline": "middle", "fontSize": 12.5, "fill": "#5a5a5a"},
         "encoding": {"x": {"field": "age", "type": "quantitative", "scale": {"domain": [0.6, 19], "nice": false}, "axis": null}, "y": {"field": "vel", "type": "quantitative", "scale": {"domain": [0, 24], "nice": false}, "axis": null}, "text": {"field": "txt"}}},
        {"data": {"name": "upMarks"}, "transform": [{"filter": "datum.panel == 'B'"}],
         "mark": {"type": "text", "align": "center", "baseline": "middle", "fontSize": 20, "dy": 4, "fill": "#444444", "font": "DejaVu Sans"},
         "encoding": {"x": {"field": "age", "type": "quantitative", "scale": {"domain": [0.6, 19], "nice": false}, "axis": null}, "y": {"field": "vel", "type": "quantitative", "scale": {"domain": [0, 24], "nice": false}, "axis": null}, "text": {"field": "txt"}}},
        {"data": {"name": "downMarks"}, "transform": [{"filter": "datum.panel == 'B'"}],
         "mark": {"type": "text", "align": "center", "baseline": "middle", "fontSize": 15, "fill": "#444444", "font": "DejaVu Sans"},
         "encoding": {"x": {"field": "age", "type": "quantitative", "scale": {"domain": [0.6, 19], "nice": false}, "axis": null}, "y": {"field": "vel", "type": "quantitative", "scale": {"domain": [0, 24], "nice": false}, "axis": null}, "text": {"field": "txt"}}},
        {"data": {"name": "one"},
         "mark": {"type": "text", "text": "B", "fontSize": 21, "fontWeight": "bold", "fill": "#333333", "align": "center", "baseline": "middle", "font": "DejaVu Sans"},
         "encoding": {"x": {"datum": 0.13, "type": "quantitative", "scale": {"domain": [0.6, 19], "nice": false}, "axis": null}, "y": {"datum": -0.74, "type": "quantitative", "scale": {"domain": [0, 24], "nice": false}, "axis": null}}},
        {"data": {"name": "one"},
         "mark": {"type": "rule", "stroke": "#8a8272", "strokeWidth": 3},
         "encoding": {"x": {"datum": 1.9, "type": "quantitative", "scale": {"domain": [0.6, 19], "nice": false}, "axis": {"orient": "top", "values": [1,2,3,4,5,6,7,8,9,10,11,12,13,14,15,16,17,18,19], "labelOverlap": false, "labelFlush": false, "grid": false, "labelPadding": 7, "title": null}}, "x2": {"datum": 19}, "y": {"datum": 24, "type": "quantitative", "scale": {"domain": [0, 24], "nice": false}, "axis": null}}}
      ],
      "resolve": {"axis": {"x": "independent", "y": "independent"}}
    }
  ],
  "config": {
    "view": {"fill": "#fdfdec", "stroke": "#a29e94", "strokeWidth": 2},
    "font": "Liberation Sans",
    "axis": {"labelFont": "Liberation Sans", "labelFontSize": 12.5, "labelColor": "#555555", "titleFont": "Liberation Sans", "titleFontSize": 12.5, "titleFontWeight": "normal", "titleColor": "#555555", "ticks": false, "tickSize": 0, "domain": false, "gridColor": "#e2e6d0", "gridWidth": 1},
    "text": {"font": "Liberation Sans"}
  }
}
